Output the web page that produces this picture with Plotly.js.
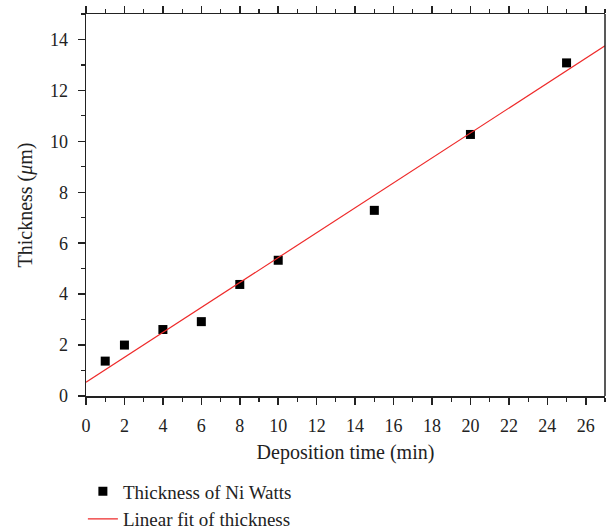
<!DOCTYPE html>
<html>
<head>
<meta charset="utf-8">
<script src="https://cdn.plot.ly/plotly-3.0.1.min.js"></script>
<style>html,body{margin:0;padding:0;background:#fff;}#chart{width:613px;height:532px;}</style>
</head>
<body>
<div id="chart"></div>
<script>
const depositionTime = [1, 2, 4, 6, 8, 10, 15, 20, 25];
const thickness = [1.37, 2.0, 2.61, 2.92, 4.38, 5.33, 7.29, 10.27, 13.08];
const fitX = [0, 27];
const fitY = [0.54, 13.75];

const fontFam = '"Liberation Serif", "DejaVu Serif", serif';
const axisCommon = {
  showgrid: false, zeroline: false,
  showline: true, linecolor: '#222', linewidth: 1.5,
  ticks: 'outside', ticklen: 7, tickwidth: 1.5, tickcolor: '#222',
  ticklabelstandoff: 6,
  tickfont: {family: fontFam, size: 18, color: '#222'},
  minor: {dtick: 1, ticks: 'outside', ticklen: 4, tickwidth: 1.2, tickcolor: '#222'}
};

const data = [
  {x: depositionTime, y: thickness, mode: 'markers', type: 'scatter',
   name: 'Thickness of Ni Watts',
   marker: {symbol: 'square', size: 9, color: '#000'}},
  {x: fitX, y: fitY, mode: 'lines', type: 'scatter',
   name: 'Linear fit of thickness',
   line: {color: '#ee2a2a', width: 1.2}}
];

const layout = {
  width: 613, height: 532,
  margin: {l: 86, r: 8, t: 14, b: 136, autoexpand: false},
  paper_bgcolor: '#fff', plot_bgcolor: '#fff',
  showlegend: true,
  legend: {x: -0.006, xanchor: 'left', y: -0.2, yanchor: 'top',
           font: {family: fontFam, size: 19, color: '#222'},
           tracegroupgap: 0, itemwidth: 30},
  xaxis: Object.assign({}, axisCommon, {
    range: [0, 27], dtick: 2, mirror: 'ticks', automargin: false,
    title: {text: 'Deposition time (min)', standoff: 10,
            font: {family: fontFam, size: 20, color: '#222'}}
  }),
  yaxis: Object.assign({}, axisCommon, {
    range: [0, 15], dtick: 2, mirror: false, automargin: false,
    title: {text: 'Thickness (<i>μ</i>m)', standoff: 12,
            font: {family: fontFam, size: 20, color: '#222'}}
  }),
  shapes: [
    {type: 'line', xref: 'paper', yref: 'paper', x0: 1, x1: 1, y0: 0, y1: 1,
     line: {color: '#222', width: 1.5}}
  ]
};

Plotly.newPlot('chart', data, layout, {displayModeBar: false, staticPlot: true});
</script>
</body>
</html>
